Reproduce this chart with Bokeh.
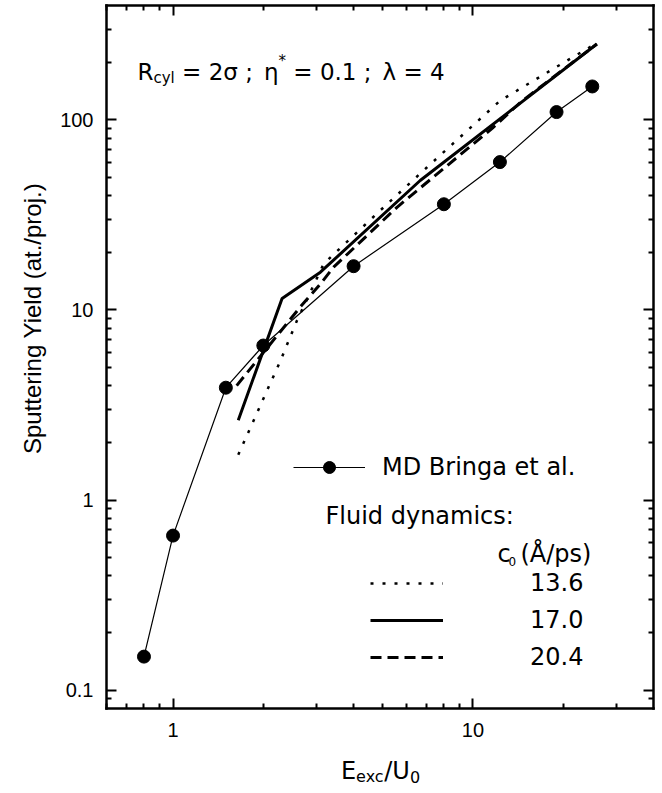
import math
from bokeh.plotting import figure
from bokeh.models import LogAxis, FixedTicker, Label, Legend, LegendItem, Range1d
from bokeh.embed import file_html
from bokeh.resources import INLINE

# ---------------- data ----------------
bringa_x = [0.8, 1.0, 1.5, 2.0, 4.0, 8.0, 12.3, 19.0, 25.0]
bringa_y = [0.15, 0.65, 3.9, 6.5, 17.0, 36.0, 60.0, 110.0, 150.0]

fd136_x = [1.65, 2.28, 2.59, 3.18, 4.9, 7.0, 12.3, 21.0, 25.6]
fd136_y = [1.73, 5.4, 8.8, 17.5, 33.3, 56.0, 126.0, 209.0, 251.0]

fd170_x = [1.65, 2.31, 3.1, 6.67, 25.9]
fd170_y = [2.63, 11.5, 15.8, 48.0, 251.0]

fd204_x = [1.63, 2.66, 3.1, 3.43, 5.58, 11.7, 14.5, 25.9]
fd204_y = [4.0, 10.4, 13.7, 16.8, 34.7, 91.5, 125.0, 251.0]

legend_labels = ["13.6", "17.0", "20.4"]
x_ticks = [1, 10]
x_tick_labels = ["1", "10"]
y_ticks = [0.1, 1, 10, 100]
y_tick_labels = ["0.1", "1", "10", "100"]
x_limits = (0.6, 40)
y_limits = (0.08, 400)

# ---------------- layout (page px) ----------------
W, H = 660, 790                      # figure size
BL, BR, BT, BB = 106, 653, 5, 708    # where the axes box lies on the page
PPX = (BR - BL) / math.log10(x_limits[1] / x_limits[0])
PPY = (BB - BT) / math.log10(y_limits[1] / y_limits[0])
x_view = (10 ** (math.log10(x_limits[0]) - BL / PPX),
          10 ** (math.log10(x_limits[1]) + (W - BR) / PPX))
y_view = (10 ** (math.log10(y_limits[0]) - (H - BB) / PPY),
          10 ** (math.log10(y_limits[1]) + BT / PPY))

def minors(lo, hi):
    out = []
    for k in range(-3, 4):
        for m in range(2, 10):
            v = m * 10.0 ** k
            if lo < v < hi:
                out.append(v)
    return out

p = figure(x_axis_type="log", y_axis_type="log",
           x_range=Range1d(*x_view), y_range=Range1d(*y_view),
           width=W, height=H, min_border=0,
           min_border_left=0, min_border_right=0, min_border_top=0, min_border_bottom=0,
           output_backend="svg", toolbar_location=None)
p.grid.visible = False
p.outline_line_color = None
p.background_fill_color = "white"
p.border_fill_color = "white"

xt = FixedTicker(ticks=x_ticks, minor_ticks=minors(*x_limits))
yt = FixedTicker(ticks=y_ticks, minor_ticks=minors(*y_limits))

def style_axis(ax, labels, overrides, bounds, loc):
    ax.bounds = bounds
    ax.fixed_location = loc
    ax.axis_line_width = 2.5
    ax.axis_line_color = "black"
    ax.axis_line_cap = "square"
    ax.major_tick_in = 10
    ax.major_tick_out = 0
    ax.minor_tick_in = 5
    ax.minor_tick_out = 0
    ax.major_tick_line_width = 2
    ax.minor_tick_line_width = 2
    ax.major_tick_line_color = "black"
    ax.minor_tick_line_color = "black"
    ax.axis_label = None
    if labels:
        ax.major_label_overrides = overrides
        ax.major_label_text_font = "Liberation Sans"
        ax.major_label_text_font_size = "20px"
        ax.major_label_text_color = "black"
    else:
        ax.major_label_overrides = {k: "" for k in overrides}
        ax.major_label_text_font_size = "0px"
        ax.major_label_standoff = 0

p.xaxis.ticker = xt
p.yaxis.ticker = yt
style_axis(p.xaxis[0], True, dict(zip(x_ticks, x_tick_labels)), x_limits, y_limits[0])
style_axis(p.yaxis[0], True, dict(zip(y_ticks, y_tick_labels)), y_limits, x_limits[0])
p.xaxis.major_label_standoff = 14
p.yaxis.major_label_standoff = 13

top = LogAxis(ticker=xt)
style_axis(top, False, dict(zip(x_ticks, x_tick_labels)), x_limits, y_limits[1])
p.add_layout(top, "above")
right = LogAxis(ticker=yt)
style_axis(right, False, dict(zip(y_ticks, y_tick_labels)), y_limits, x_limits[1])
p.add_layout(right, "right")

# ---------------- data glyphs ----------------
r_bl = p.line(bringa_x, bringa_y, line_color="black", line_width=1.2)
r_bp = p.scatter(bringa_x, bringa_y, marker="circle", size=13,
                 fill_color="black", line_color="black")
r_dot = p.line(fd136_x, fd136_y, line_color="black", line_width=2.5, line_dash="3 9")
r_sol = p.line(fd170_x, fd170_y, line_color="black", line_width=3)
r_dash = p.line(fd204_x, fd204_y, line_color="black", line_width=3, line_dash="11 6")

# ---------------- legends ----------------
common = dict(padding=0, margin=0, border_line_color=None, background_fill_alpha=0,
              label_text_font="DejaVu Sans", label_text_font_size="24px",
              label_text_color="black", glyph_height=30, label_height=30)
leg1 = Legend(items=[LegendItem(label="MD Bringa et al.", renderers=[r_bl, r_bp])],
              location=(293, H - 482), glyph_width=72, label_standoff=17, **common)
leg2 = Legend(items=[LegendItem(label=l, renderers=[r]) for l, r in
                     zip(legend_labels, [r_dot, r_sol, r_dash])],
              location=(370, H - 672), glyph_width=73, label_standoff=87,
              spacing=7, **common)
p.add_layout(leg1)
p.add_layout(leg2)

# ---------------- texts ----------------
def put(text, wx, wy, size, font="DejaVu Sans", align="left", baseline="alphabetic", angle=0.0):
    p.add_layout(Label(x=wx, y=H - wy, x_units="screen", y_units="screen",
                       text=text, text_font=font, text_font_size=f"{size}px",
                       text_align=align, text_baseline=baseline, angle=angle,
                       text_color="black"))

DJ = {' ': .318, '=': .838, '2': .636, '0': .636, '1': .636, '4': .636, '.': .318,
      ';': .337, 'R': .695, 'c': .55, 'y': .592, 'l': .278, 'σ': .634, 'η': .634,
      '*': .5, 'λ': .592, 'E': .632, 'e': .615, 'x': .592, '/': .337, 'U': .732}

def w(t, s):
    return sum(DJ.get(ch, .6) for ch in t) * s

# annotation  R_cyl = 2σ ;  η* = 0.1 ;  λ = 4
S, SS = 23, 15
x0, bl = 137, 71
put("R", x0, bl, S); x0 += w("R", S)
put("cyl", x0, bl + 6, SS); x0 += w("cyl", SS) + w(" ", S)
put("= 2σ ;", x0, bl, S); x0 += w("= 2σ ;", S) + 1.5 * w(" ", S)
put("η", x0, bl, S); x0 += w("η", S)
put("*", x0, bl - 11, SS); x0 += w("*", SS) + w(" ", S)
put("= 0.1 ;", x0, bl, S); x0 += w("= 0.1 ;", S) + 1.5 * w(" ", S)
put("λ = 4", x0, bl, S)

# legend headings
put("Fluid dynamics:", 325, 515, 24)
put("c", 497, 553, 24)
put("0", 508, 561, 12)
put("(Å/ps)", 520, 553, 24)

# axis titles
put("Sputtering Yield (at./proj.)", 32, 318, 24, font="Liberation Sans",
    align="center", baseline="middle", angle=math.pi / 2)
S2, SS2 = 24, 16
tot = w("E", S2) + w("exc", SS2) + w("/U", S2) + w("0", SS2)
x0, bl = 380 - tot / 2, 770
put("E", x0, bl, S2); x0 += w("E", S2)
put("exc", x0, bl + 6, SS2); x0 += w("exc", SS2)
put("/U", x0, bl, S2); x0 += w("/U", S2)
put("0", x0, bl + 6, SS2)

open("out.html", "w").write(file_html(p, INLINE))
